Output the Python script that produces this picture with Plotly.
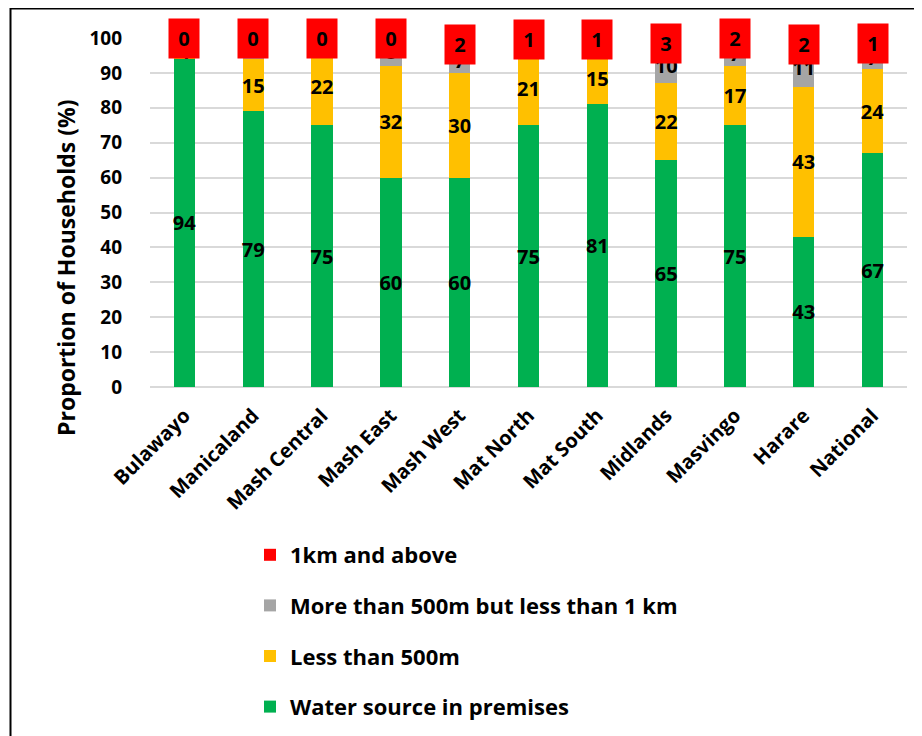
import plotly.graph_objects as go

categories = ["Bulawayo", "Manicaland", "Mash Central", "Mash East", "Mash West",
              "Mat North", "Mat South", "Midlands", "Masvingo", "Harare", "National"]
premises = [94, 79, 75, 60, 60, 75, 81, 65, 75, 43, 67]
less500 = [4, 15, 22, 32, 30, 21, 15, 22, 17, 43, 24]
between = [2, 6, 3, 8, 7, 3, 3, 10, 7, 11, 7]
above1km = [0, 0, 0, 0, 2, 1, 1, 3, 2, 2, 1]
yticks = [0, 10, 20, 30, 40, 50, 60, 70, 80, 90, 100]

FONT = "Open Sans"
W, H = 922, 736
# page body has an 8px margin, so figure pixels = screen pixels - 8
L, R, T, B = 142, 23, 30, 357
pw = W - L - R
ph = H - T - B


def px_x(fx):
    return (fx - L) / pw


def px_y(fy):
    return (H - B - fy) / ph


fig = go.Figure()
series = [
    ("Water source in premises", premises, "#00B050", 4),
    ("Less than 500m", less500, "#FFC000", 3),
    ("More than 500m but less than 1 km", between, "#A5A5A5", 2),
]
for name, vals, col, rank in series:
    fig.add_trace(go.Bar(
        x=categories, y=vals, name=name, marker=dict(color=col, line=dict(width=0)),
        text=[str(v) for v in vals], textposition="inside", insidetextanchor="middle",
        textangle=0, constraintext="none",
        textfont=dict(family=FONT, size=20, color="black", weight="bold"),
        legendgroup=name, legendrank=rank,
    ))
fig.add_trace(go.Bar(
    x=categories, y=above1km, name="1km and above", marker=dict(color="#FF0000", line=dict(width=0)),
    legendgroup="1km", legendrank=1,
))

for i, c in enumerate(categories):
    base = premises[i] + less500[i] + between[i]
    fig.add_annotation(
        x=c, y=base + above1km[i] / 2, xref="x", yref="y",
        text="<b>%d</b>" % above1km[i], showarrow=False,
        bgcolor="#FF0000", width=28, height=37,
        font=dict(family=FONT, size=20, color="black"),
    )

# y-axis title (centred lower than the plot area, as in the reference)
fig.add_annotation(
    text="<b>Proportion of Households (%)</b>", textangle=-90, showarrow=False,
    xref="paper", yref="paper", x=px_x(58), y=px_y(260), xanchor="center", yanchor="middle",
    font=dict(family=FONT, size=23, color="black"),
)

# outer border
fig.add_shape(type="rect", xref="paper", yref="paper",
              x0=px_x(2.5), x1=px_x(930), y0=px_y(745), y1=px_y(0.5),
              line=dict(color="black", width=2), fillcolor="rgba(0,0,0,0)")

fig.update_layout(
    width=W, height=H,
    margin=dict(l=L, r=R, t=T, b=B, autoexpand=False),
    barmode="stack", bargap=0.69,
    plot_bgcolor="white", paper_bgcolor="white",
    font=dict(family=FONT, color="black"),
    xaxis=dict(tickangle=-45, showgrid=False, showline=False, ticks="", ticklabelstandoff=12,
               tickfont=dict(family=FONT, size=20, weight="bold", color="black")),
    yaxis=dict(range=[0, 100], tickvals=yticks, showgrid=True, gridcolor="#D9D9D9", gridwidth=1.5,
               zeroline=True, zerolinecolor="#D9D9D9", zerolinewidth=1.5,
               ticks="", ticklabelstandoff=27,
               tickfont=dict(family=FONT, size=19, weight="bold", color="black")),
    legend=dict(orientation="v", traceorder="grouped", tracegroupgap=19,
                x=px_x(242), xanchor="left", y=px_y(526), yanchor="top",
                font=dict(family=FONT, size=22, weight="bold", color="black"),
                itemwidth=30, bgcolor="rgba(0,0,0,0)"),
    showlegend=True,
)

fig.write_html("out.html")
